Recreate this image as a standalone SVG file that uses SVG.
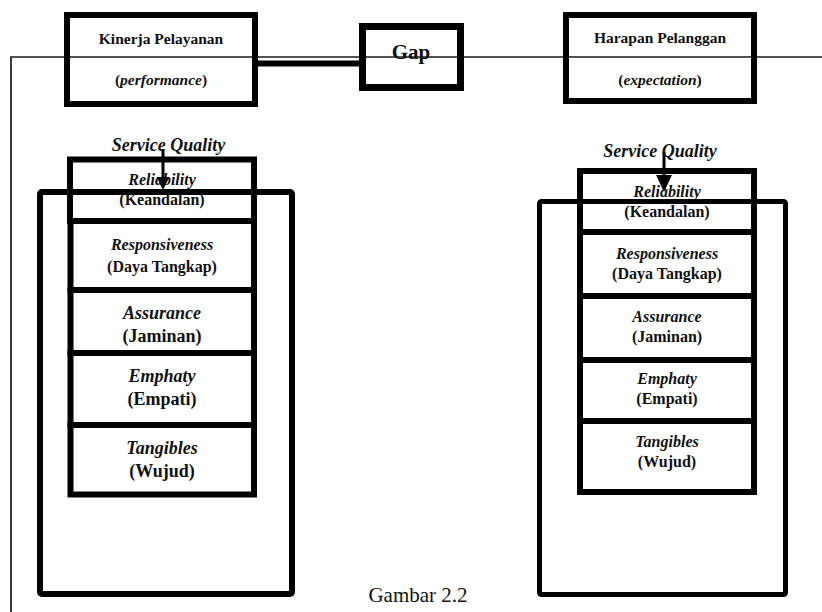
<svg xmlns="http://www.w3.org/2000/svg" width="822" height="612" viewBox="0 0 822 612">
<style>
.box{fill:none;stroke:#000;stroke-width:6}
.frame{fill:none;stroke:#000;stroke-width:6}
.thin{fill:none;stroke:#1a1a1a;stroke-width:1.7}
.t{font-family:"Liberation Serif","Times New Roman",serif;font-weight:bold;text-anchor:middle;fill:#111}
.i{font-style:italic}
.s15{font-size:15.5px}
.s16{font-size:16px}
.s18{font-size:18px}
.cap{font-family:"Liberation Serif","Times New Roman",serif;font-size:21px;text-anchor:middle;fill:#111}
</style>
<defs>
<marker id="ah" markerWidth="6" markerHeight="6" refX="5" refY="3" orient="auto" markerUnits="strokeWidth">
<path d="M0,0 L5,3 L0,6 Z" fill="#000"/>
</marker>
</defs>
<rect width="822" height="612" fill="#fff"/>

<g id="connectors">
<path class="thin" d="M11,612 V57 H822"/>
<line x1="257" y1="63.5" x2="360" y2="63.5" stroke="#000" stroke-width="6"/>
<line x1="163" y1="149" x2="163" y2="178" stroke="#000" stroke-width="3"/>
<polygon points="156.5,177 169.5,177 163,190" fill="#000"/>
<line x1="664" y1="152" x2="664" y2="176" stroke="#000" stroke-width="3"/>
<polygon points="656,175 672,175 664,192" fill="#000"/>
</g>

<g id="kinerja">
<rect class="box" x="67" y="15" width="188" height="89"/>
<text class="t s15" x="161" y="44">Kinerja Pelayanan</text>
<text class="t s15" x="161" y="85">(<tspan class="i">performance</tspan>)</text>
</g>

<g id="gap">
<rect class="box" x="362.5" y="26.5" width="98" height="61" style="stroke-width:7"/>
<text class="t" style="font-size:21px" x="411" y="59">Gap</text>
</g>

<g id="harapan">
<rect class="box" x="566" y="15" width="188" height="86"/>
<text class="t s15" x="660" y="43">Harapan Pelanggan</text>
<text class="t s15" x="660" y="85">(<tspan class="i">expectation</tspan>)</text>
</g>

<g id="left-label">
<text class="t i s18" x="168.5" y="151">Service Quality</text>
</g>
<g id="right-label">
<text class="t i s18" x="660" y="157">Service Quality</text>
</g>

<g id="left-reliability">
<rect class="box" x="70" y="159.5" width="184" height="61.5"/>
<text class="t i s16" x="162" y="185">Reliability</text>
<text class="t s16" x="162" y="205">(Keandalan)</text>
</g>
<g id="left-responsiveness">
<rect class="box" x="70.5" y="221" width="183.5" height="69"/>
<text class="t i s16" x="162" y="250">Responsiveness</text>
<text class="t s16" x="162" y="271.5">(Daya Tangkap)</text>
</g>
<g id="left-assurance">
<rect class="box" x="70.5" y="290" width="183.5" height="63"/>
<text class="t i s18" x="162" y="319">Assurance</text>
<text class="t s18" x="162" y="342">(Jaminan)</text>
</g>
<g id="left-emphaty">
<rect class="box" x="70.5" y="353" width="183.5" height="72"/>
<text class="t i s18" x="162" y="382">Emphaty</text>
<text class="t s18" x="162" y="405">(Empati)</text>
</g>
<g id="left-tangibles">
<rect class="box" x="70.5" y="425" width="183.5" height="69.5"/>
<text class="t i s18" x="162" y="454">Tangibles</text>
<text class="t s18" x="162" y="477">(Wujud)</text>
</g>

<g id="right-reliability">
<rect class="box" x="580" y="171" width="174" height="61"/>
<text class="t i s16" x="667" y="197">Reliability</text>
<text class="t s16" x="667" y="217">(Keandalan)</text>
</g>
<g id="right-responsiveness">
<rect class="box" x="580" y="232" width="174" height="64"/>
<text class="t i s16" x="667" y="259">Responsiveness</text>
<text class="t s16" x="667" y="279">(Daya Tangkap)</text>
</g>
<g id="right-assurance">
<rect class="box" x="580" y="296" width="174" height="64"/>
<text class="t i s16" x="667" y="322">Assurance</text>
<text class="t s16" x="667" y="341.5">(Jaminan)</text>
</g>
<g id="right-emphaty">
<rect class="box" x="580" y="360" width="174" height="61"/>
<text class="t i s16" x="667" y="384">Emphaty</text>
<text class="t s16" x="667" y="404">(Empati)</text>
</g>
<g id="right-tangibles">
<rect class="box" x="580" y="421" width="174" height="71"/>
<text class="t i s16" x="667" y="447">Tangibles</text>
<text class="t s16" x="667" y="467">(Wujud)</text>
</g>

<g id="left-frame">
<rect class="frame" x="40" y="192" width="252" height="402" rx="2"/>
</g>
<g id="right-frame">
<rect class="frame" x="539.5" y="201.5" width="246" height="393" rx="2" style="stroke-width:5"/>
</g>

<text class="cap" x="418" y="602">Gambar 2.2</text>
</svg>
